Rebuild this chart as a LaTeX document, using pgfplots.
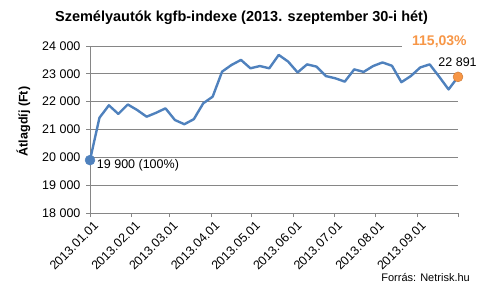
\documentclass[border=0pt]{standalone}
\usepackage{pgfplots}
\pgfplotsset{compat=1.18}
\usepackage{fontspec}
\setmainfont{Liberation Sans}
\definecolor{xlblue}{HTML}{4F81BD}
\definecolor{xlorange}{HTML}{F79646}
\definecolor{gridgray}{HTML}{868686}
\pgfplotstableread{
day val
0 19900
7 21420
14 21870
21 21560
28 21900
35 21700
42 21460
49 21600
56 21760
63 21340
70 21190
77 21370
84 21940
91 22180
98 23080
105 23320
112 23500
119 23200
126 23280
133 23200
140 23680
147 23440
154 23050
161 23340
168 23260
175 22920
182 22840
189 22720
196 23160
203 23070
210 23280
217 23410
224 23290
231 22700
238 22920
245 23230
252 23340
259 22900
266 22440
273 22891
}\datatable
\begin{document}
\begin{tikzpicture}[x=1pt,y=1pt]
\path[use as bounding box] (0,0) rectangle (489,290);
\begin{axis}[
  at={(90pt,77pt)}, anchor=south west,
  scale only axis, width=368pt, height=167pt,
  xmin=0, xmax=273, ymin=18000, ymax=24000,
  axis lines*=left,
  axis line style={gridgray, line width=0.8pt, -},
  scaled y ticks=false,
  ytick={18000,19000,20000,21000,22000,23000,24000},
  yticklabels={18 000,19 000,20 000,21 000,22 000,23 000,24 000},
  xtick={0,31,59,90,120,151,181,212,243,273},
  xticklabels={2013.01.01,2013.02.01,2013.03.01,2013.04.01,2013.05.01,2013.06.01,2013.07.01,2013.08.01,2013.09.01,},
  ymajorgrids, grid style={gridgray, line width=0.8pt},
  tick style={gridgray, line width=0.8pt},
  tick align=outside, major tick length=4pt,
  ticklabel style={font=\fontsize{12.5}{14}\selectfont},
  yticklabel style={xshift=-2pt},
  xticklabel style={rotate=45, anchor=north east, xshift=3pt, yshift=-1pt},
  clip=false,
]
\addplot[xlblue, line width=2.4pt, line join=round] table[x=day,y=val] {\datatable};
\addplot[only marks, mark=*, mark size=5pt, mark options={fill=xlblue, draw=xlblue}] coordinates {(0,19900)};
\addplot[only marks, mark=*, mark size=5pt, mark options={fill=xlorange, draw=xlorange!80!black, line width=0.4pt}] coordinates {(273,22891)};
\node[anchor=west, font=\fontsize{12.5}{14}\selectfont, inner sep=0pt] at (axis cs:5,19700) {19 900 (100\%)};
\node[anchor=east, font=\fontsize{12.5}{14}\selectfont, inner sep=0pt] at (axis cs:287,23420) {22 891};
\node[anchor=east, font=\bfseries\fontsize{14}{16}\selectfont, text=xlorange, fill=white, inner sep=0pt, inner xsep=10pt] at (axis cs:287,24160) {115,03\%};
\end{axis}
\node[font=\bfseries\fontsize{14.5}{16}\selectfont] at (241.5,272) {Személyautók kgfb-indexe (2013. szeptember 30-i hét)};
\node[rotate=90, font=\bfseries\fontsize{12.5}{14}\selectfont] at (23.5,168.5) {Átlagdíj (Ft)};
\node[anchor=east, font=\fontsize{11}{13}\selectfont, inner sep=0pt] at (470,13) {Forrás: Netrisk.hu};
\end{tikzpicture}
\end{document}
